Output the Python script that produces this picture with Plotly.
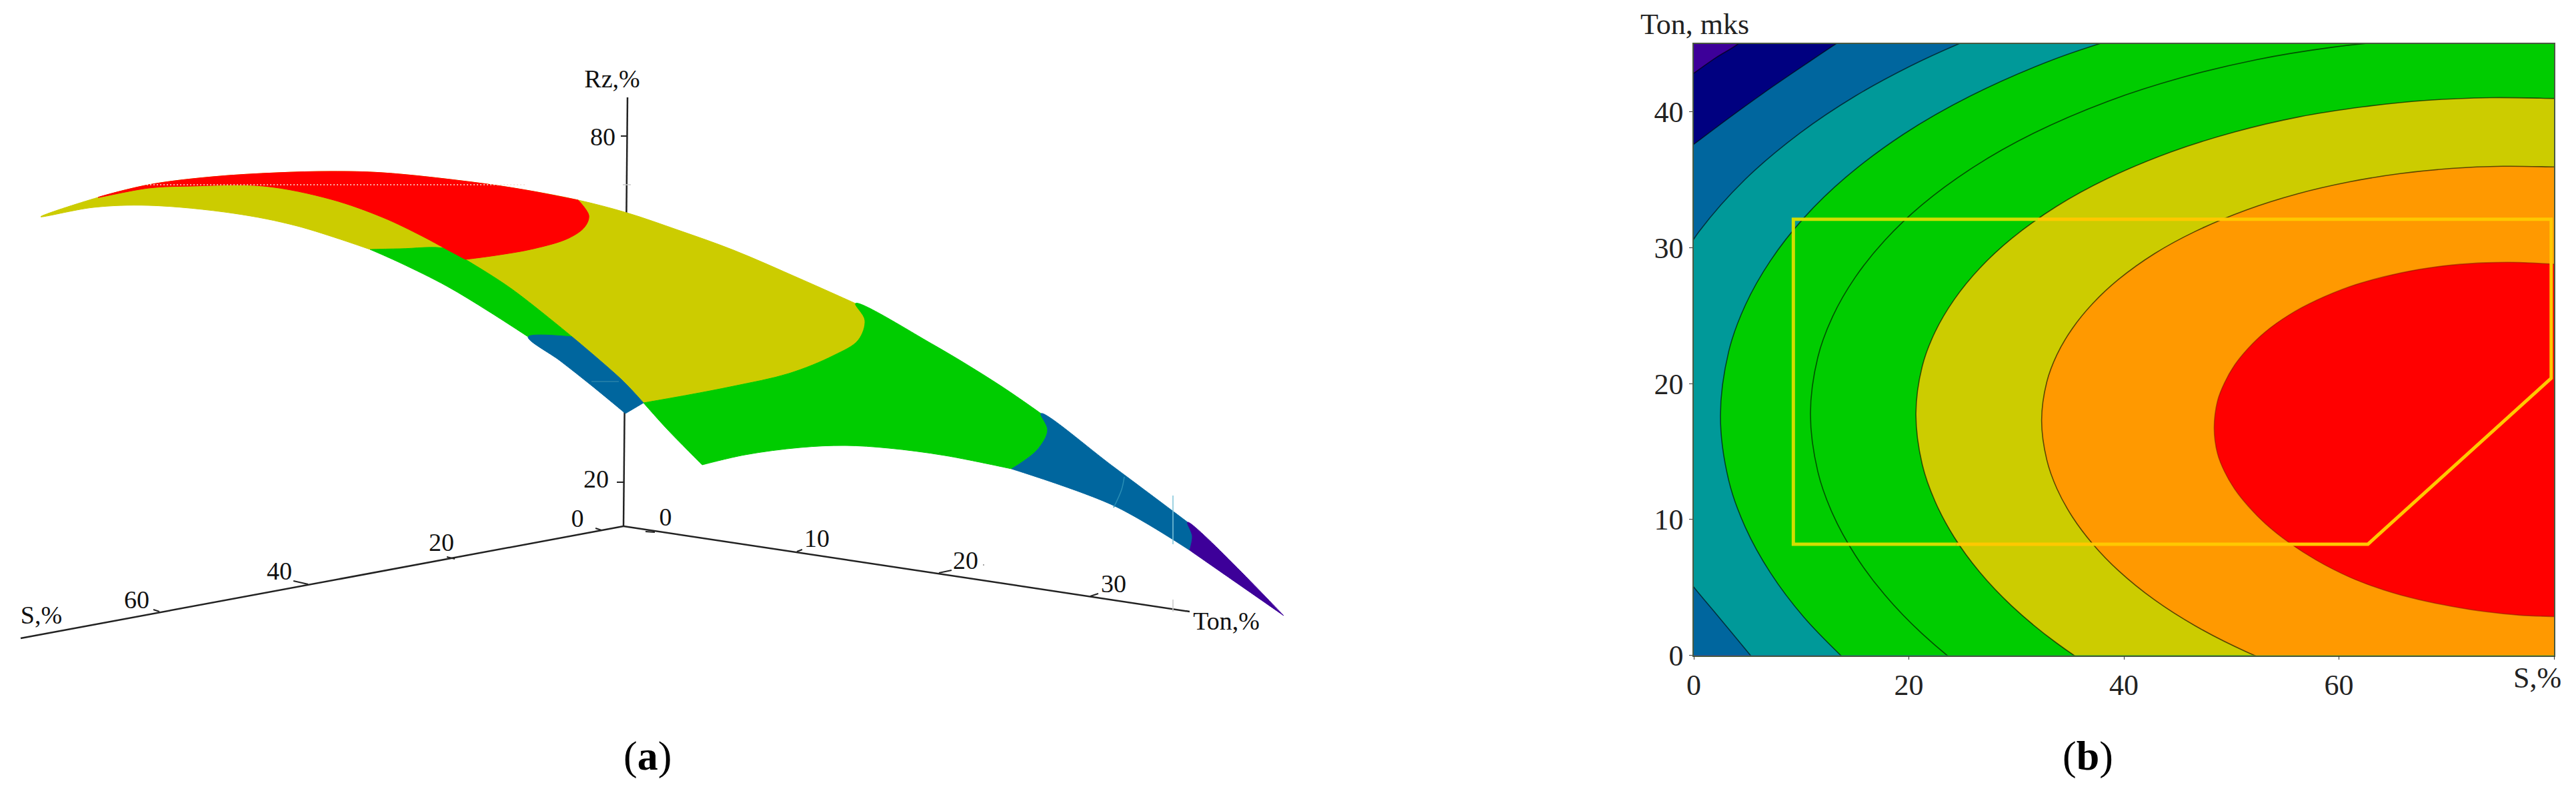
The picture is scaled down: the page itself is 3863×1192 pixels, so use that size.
import plotly.graph_objects as go

W, H = 3863, 1192
SERIF = "Liberation Serif"

RED = "#FF0000"
ORANGE = "#FF9900"
YELLOW = "#CCCC00"
GREEN = "#00CC00"
TEAL = "#009999"
BLUE = "#00669E"
NAVY = "#000080"
PURPLE = "#3D0099"

# --- panel (a): surface edges
top_yellow = [(61, 325), (147, 296), (223, 277), (319, 265), (415, 259), (497, 257), (574, 259), (700, 272),
              (783, 284), (867, 300), (940, 319), (1017, 345), (1100, 375), (1200, 418), (1283, 455)]
top_green = [(1283, 455), (1400, 517), (1500, 578), (1561, 620)]
top_blue = [(1561, 620), (1670, 700), (1781, 783)]
top_purple = [(1781, 783), (1925, 923)]
low_purple = [(1925, 923), (1784, 825)]
low_blue = [(1784, 825), (1670, 758), (1517, 703)]
low_green = [(1517, 703), (1417, 683), (1333, 672), (1267, 668), (1200, 671), (1117, 682), (1053, 697)]
front_green = [(1053, 697), (1000, 643), (965, 604)]
low_yellow = [(555, 374), (446, 339), (351, 320), (223, 308), (140, 311), (61, 325)]

rim_yellow = [(1283, 455), (1297, 480), (1287, 510), (1250, 533), (1183, 560), (1100, 579), (1033, 592), (965, 604)]
inner_blue = [(965, 604), (933, 570), (858, 505)]
inner_green = [(858, 505), (767, 433), (698, 389)]
flat_green = [(698, 389), (670, 373), (600, 373), (555, 374)]
cut_green_blue = [(792, 505), (858, 505)]
strip_green_low = [(792, 505), (733, 467), (670, 429), (600, 394), (555, 374)]
strip_blue_end = [(965, 604), (938, 620)]
strip_blue_low = [(938, 620), (887, 578), (840, 541), (792, 505)]
rim_green = [(1561, 620), (1571, 645), (1555, 675), (1517, 703)]
rim_blue = [(1781, 783), (1788, 804), (1784, 825)]
red_top = [(147, 296), (223, 277), (319, 265), (415, 259), (497, 257), (574, 259), (700, 272), (783, 284), (867, 300)]
red_rim = [(867, 300), (883, 323), (877, 340), (853, 357), (800, 373), (743, 383), (698, 389)]
red_low = [(698, 389), (670, 374), (633, 354), (574, 326), (497, 299), (395, 279), (287, 279), (223, 282), (147, 296)]

axis_z = [(941, 146), (935, 789)]
axis_s = [(935, 789), (31, 957)]
axis_ton = [(935, 789), (1784, 917)]
ticks_a = [[(931, 204), (941, 204)], [(925, 723), (936, 723)], [(893, 792), (902, 795)], [(670, 835), (682, 838)],
           [(440, 871), (462, 876)], [(230, 914), (239, 917)], [(968, 797), (982, 798)], [(1195, 827), (1203, 824)],
           [(1408, 859), (1427, 855)], [(1635, 894), (1647, 890)]]
labels_a = ["Rz,%", "80", "20", "0", "20", "40", "60", "S,%", "0", "10", "20", "30", "Ton,%"]
labels_a_x = [918, 904, 894, 866, 662, 419, 205, 62, 998, 1225, 1448, 1670, 1839]
labels_a_y = [121, 208, 721, 780, 816, 859, 902, 925, 778, 810, 843, 878, 934]

# --- panel (b): contour boundaries, S (%) and Ton (mks)
level_purple = [(5, 45.7), (4.1, 45), (2.07, 44), (0, 42.85), (-1, 42.3)]
level_navy = [(14.5, 45.65), (13.2, 45), (10, 43.3), (6.5, 41.4), (3, 39.4), (0, 37.62), (-1, 37.05)]
level_blue_top = [(28.7, 46.29), (24.43, 44.94), (20.15, 43.38), (15.02, 41.17), (9.89, 38.45), (4.76, 35.02), (0.49, 31.19),
                  (-2.08, 28.03)]
level_blue_low = [(-1, 6.1), (0, 5.02), (2.07, 3.06), (5.27, 0), (6.3, -1)]
level_teal = [(41.24, 45.88), (33.49, 43.87), (25.74, 41.18), (19.53, 38.37), (14.11, 35.17), (10.23, 32.19), (7.13, 29.05),
              (4.8, 25.79), (3.25, 22.37), (2.48, 17.6), (3.25, 12.87), (4.8, 9.41), (7.13, 6.07), (10.23, 2.81), (14.11, -0.35),
              (19, -3.9)]
level_green = [(66.17, 45.31), (59.26, 44.75), (52.34, 43.85), (45.43, 42.54), (38.51, 40.78), (31.6, 38.43), (26.06, 35.96),
               (21.22, 33.16), (17.77, 30.55), (15, 27.81), (12.92, 24.95), (11.54, 21.95), (10.85, 17.77), (11.54, 13.51),
               (12.92, 10.4), (15, 7.39), (17.77, 4.44), (21.22, 1.6), (26.06, -1.53), (32, -4.5)]
level_yellow = [(85, 40.9), (80, 40.99), (74.07, 41.05), (68.13, 40.85), (62.2, 40.37), (56.26, 39.63), (50.33, 38.53),
                (44.4, 37.06), (38.46, 35.09), (33.71, 33.03), (29.56, 30.68), (26.59, 28.49), (24.22, 26.19), (22.44, 23.8),
                (21.25, 21.28), (20.66, 17.77), (21.25, 14.04), (22.44, 11.33), (24.22, 8.69), (26.59, 6.12), (29.56, 3.64),
                (33.71, 0.92), (38.46, -1.54), (45, -4.2)]
level_orange = [(85, 35.85), (80, 35.95), (75.24, 36), (70.47, 35.84), (65.7, 35.46), (60.94, 34.85), (56.18, 33.98),
                (51.41, 32.79), (46.65, 31.21), (42.83, 29.56), (39.5, 27.67), (37.12, 25.91), (35.21, 24.06), (33.78, 22.14),
                (32.83, 20.12), (32.35, 17.3), (32.83, 14.39), (33.78, 12.25), (35.21, 10.19), (37.12, 8.18), (39.5, 6.23),
                (42.83, 4.09), (46.65, 2.16), (51.41, 0.25), (56.18, -1.25), (64, -3.2)]
level_red = [(85, 28.7), (80, 28.8), (76.8, 28.92), (73.7, 28.9), (70.5, 28.73), (67.4, 28.4), (64.2, 27.87), (61, 27.14),
             (57.9, 26.13), (55.35, 25.05), (53.14, 23.8), (51.56, 22.6), (50.3, 21.37), (49.35, 20.04), (48.7, 18.7),
             (48.4, 16.7), (48.7, 14.87), (49.35, 13.54), (50.3, 12.24), (51.56, 10.98), (53.14, 9.7), (55.35, 8.3), (57.9, 7),
             (61, 5.75), (64.2, 4.8), (67.4, 4.1), (70.5, 3.6), (73.7, 3.2), (76.8, 2.95), (80, 2.85), (85, 2.8)]
limit_zone_green = [(32, 32.1), (9.26, 32.1), (9.26, 8.18), (24.4, 8.18)]
limit_zone_gold = [(32, 32.1), (79.74, 32.1), (79.74, 20.4), (62.7, 8.18), (24.4, 8.18)]
ticks_s = [0, 20, 40, 60, 80]
ticks_s_text = ["0", "20", "40", "60", ""]
ticks_ton = [0, 10, 20, 30, 40]

fig = go.Figure()


def poly(*edges):
    pts = [p for e in edges for p in e]
    return [p[0] for p in pts], [p[1] for p in pts]


def add_region(color, *edges):
    x, y = poly(*edges)
    fig.add_trace(go.Scatter(x=x, y=y, mode="lines", fill="toself", fillcolor=color, hoverinfo="skip",
                             line=dict(color=color, width=1, shape="spline", smoothing=1, simplify=False),
                             xaxis="x", yaxis="y", showlegend=False))


def add_line(pts, color="#222222", width=2.5, dash=None, shape="linear"):
    x, y = poly(pts)
    fig.add_trace(go.Scatter(x=x, y=y, mode="lines", hoverinfo="skip",
                             line=dict(color=color, width=width, dash=dash, shape=shape),
                             xaxis="x", yaxis="y", showlegend=False))


# axes of panel (a) go behind the surface
add_line(axis_z)
add_line(axis_s)
add_line(axis_ton)
for t in ticks_a:
    add_line(t, width=2)
add_line([(1759, 899), (1759, 917)], color="#C8C8C8", width=1.5)
add_line([(934, 277), (946, 277)], color="#C8C8C8", width=1.5)

add_region(YELLOW, top_yellow, rim_yellow, inner_blue, inner_green, flat_green, low_yellow)
add_region(GREEN, flat_green, strip_green_low[::-1], cut_green_blue, inner_green)
add_region(BLUE, cut_green_blue, inner_blue[::-1], strip_blue_end, strip_blue_low)
add_region(GREEN, top_green, rim_green, low_green, front_green, rim_yellow[::-1])
add_region(BLUE, top_blue, rim_blue, low_blue, rim_green[::-1])
add_region(PURPLE, top_purple, low_purple, rim_blue[::-1])
add_region(RED, red_top, red_rim, red_low)

add_line([(220, 277), (788, 277)], color="#F4E4D8", width=1.5, dash="2px,3px")
add_line([(1686, 715), (1682, 734), (1670, 761)], color="#2A8FB5", width=1.5, shape="spline")
add_line([(1759, 743), (1759, 816)], color="#7FC4D8", width=1.5)
add_line([(887, 572), (928, 572)], color="#3D8FB0", width=1)

fig.add_trace(go.Scatter(x=labels_a_x, y=labels_a_y, text=labels_a, mode="text", hoverinfo="skip",
                         textfont=dict(family=SERIF, size=38, color="#111111"), textposition="middle center",
                         xaxis="x", yaxis="y", showlegend=False))
fig.add_trace(go.Scatter(x=[1475], y=[847], mode="markers", marker=dict(size=2, color="#888888"), hoverinfo="skip",
                         xaxis="x", yaxis="y", showlegend=False))

# panel (b): nested regions, lowest level first; closing points lie outside the axis range
OUT = [(92, -6), (92, 51)]
CONTOUR = "rgba(0,0,0,0.6)"


def add_level(color, edge, closing, line_color=CONTOUR):
    x, y = poly(edge, closing)
    fig.add_trace(go.Scatter(x=x, y=y, mode="lines", fill="toself", fillcolor=color, hoverinfo="skip",
                             line=dict(color=line_color, width=1.6, shape="spline", smoothing=1, simplify=False),
                             xaxis="x2", yaxis="y2", showlegend=False))


add_level(PURPLE, [(-6, -6), (92, -6), (92, 51), (-6, 51)], [], line_color=PURPLE)
add_level(NAVY, level_purple, [(-6, 40), (-6, -6)] + OUT + [(6, 51)])
add_level(BLUE, level_navy, [(-6, 34), (-6, -6)] + OUT + [(16, 51)])
add_level(TEAL, level_blue_top, [(-6, 24), (-6, 10)] + level_blue_low + [(8, -6)] + OUT + [(31, 51)])
add_level(GREEN, level_teal, OUT + [(44, 51)])
add_level(GREEN, level_green, OUT + [(68, 51)])
add_level(YELLOW, level_yellow, [(92, -6), (92, 41)])
add_level(ORANGE, level_orange, [(92, -6), (92, 35.8)])
add_level(RED, level_red, [(92, 2.8), (92, 28.7)], line_color="rgba(120,30,0,0.5)")

for pts, color in [(limit_zone_green, "#D2DE00"), (limit_zone_gold, "#FFC800")]:
    x, y = poly(pts)
    fig.add_trace(go.Scatter(x=x, y=y, mode="lines", line=dict(color=color, width=5), hoverinfo="skip",
                             xaxis="x2", yaxis="y2", showlegend=False))

# small stray mark next to the "0" of panel (b)
fig.add_trace(go.Scatter(x=[1.7, 2.1], y=[-1.6, -1.6], mode="lines", line=dict(color="#F2E29A", width=2),
                         hoverinfo="skip", xaxis="x2", yaxis="y2", cliponaxis=False, showlegend=False))

fig.update_layout(
    width=W, height=H, margin=dict(l=0, r=0, t=0, b=0, autoexpand=False), plot_bgcolor="white", paper_bgcolor="white",
    xaxis=dict(domain=[0, 2460 / W], range=[0, 2460], visible=False, automargin=False),
    yaxis=dict(domain=[0, 1], range=[H, 0], visible=False, automargin=False),
    xaxis2=dict(domain=[2540 / W, 3830 / W], range=[0, 80], anchor="y2", tickmode="array", tickvals=ticks_s,
                ticktext=ticks_s_text, ticks="outside", ticklen=5, tickcolor="#333333", showgrid=False, zeroline=False,
                showline=True, linecolor="#4A5A40", linewidth=1.5, mirror=True, automargin=False,
                tickfont=dict(family=SERIF, size=44, color="#222222")),
    yaxis2=dict(domain=[(H - 982.5) / H, (H - 66) / H], range=[0, 45], anchor="x2", tickmode="array", tickvals=ticks_ton,
                ticks="outside", ticklen=5, tickcolor="#333333", showgrid=False, zeroline=False,
                showline=True, linecolor="#4A5A40", linewidth=1.5, mirror=True, automargin=False,
                tickfont=dict(family=SERIF, size=44, color="#222222")),
    annotations=[
        dict(text="(<b>a</b>)", x=971 / W, y=1 - 1133 / H, xref="paper", yref="paper", showarrow=False,
             xanchor="center", yanchor="middle", font=dict(family=SERIF, size=62, color="black")),
        dict(text="(<b>b</b>)", x=3131 / W, y=1 - 1133 / H, xref="paper", yref="paper", showarrow=False,
             xanchor="center", yanchor="middle", font=dict(family=SERIF, size=62, color="black")),
        dict(text="Ton, mks", x=2541 / W, y=1 - 36 / H, xref="paper", yref="paper", showarrow=False,
             xanchor="center", yanchor="middle", font=dict(family=SERIF, size=44, color="#222222")),
        dict(text="S,%", x=3805 / W, y=1 - 1016 / H, xref="paper", yref="paper", showarrow=False,
             xanchor="center", yanchor="middle", font=dict(family=SERIF, size=44, color="#222222")),
    ],
)

fig.write_html("out.html", config={"displayModeBar": False}, post_script="document.body.style.margin='0';")
